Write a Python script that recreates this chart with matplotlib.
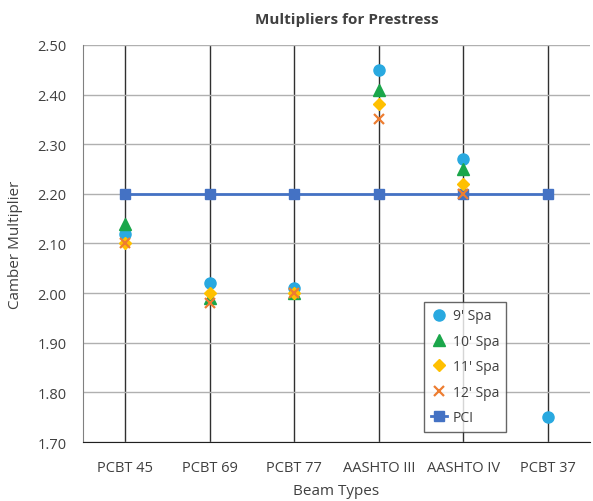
import numpy as np
import matplotlib.pyplot as plt

beams = ['PCBT 45', 'PCBT 69', 'PCBT 77', 'AASHTO III', 'AASHTO IV', 'PCBT 37']
spa9 = [2.12, 2.02, 2.01, 2.45, 2.27, 1.75]
spa10 = [2.14, 1.99, 2.00, 2.41, 2.25, np.nan]
spa11 = [2.10, 2.00, 2.00, 2.38, 2.22, np.nan]
spa12 = [2.10, 1.98, 2.00, 2.35, 2.20, np.nan]
pci = [2.20, 2.20, 2.20, 2.20, 2.20, 2.20]

plt.rcParams['font.family'] = ['Open Sans', 'DejaVu Sans']

fig = plt.figure(figsize=(5.93, 5.02), dpi=100)
ax = fig.add_axes([0.14, 0.1175, 0.855, 0.791])
x = np.arange(len(beams))

ax.plot(x, spa9, 'o', color='#29A9E0', ms=8, label="9' Spa", zorder=3)
ax.plot(x, spa10, '^', color='#1AA64A', ms=8, label="10' Spa", zorder=4)
ax.plot(x, spa11, 'D', color='#FFC000', ms=6, label="11' Spa", zorder=5)
ax.plot(x, spa12, 'x', color='#ED7D31', ms=7, mew=1.6, label="12' Spa", zorder=6)
ax.plot(x, pci, '-s', color='#4472C4', lw=2, ms=7, label='PCI', zorder=2)

ax.set_xlim(-0.5, 5.5)
ax.set_ylim(1.70, 2.50)
ax.set_yticks(np.arange(1.70, 2.501, 0.10))
ax.set_yticklabels(['%.2f' % v for v in np.arange(1.70, 2.501, 0.10)])
ax.set_xticks(x)
ax.set_xticklabels(beams)
ax.yaxis.grid(True, color='#b0b0b0', lw=1)
ax.xaxis.grid(True, color='#303030', lw=1)
ax.set_axisbelow(True)
ax.tick_params(length=0, labelsize=10.5, colors='#404040')
ax.tick_params(axis='x', pad=13)
ax.tick_params(axis='y', pad=12)
for s in ['top', 'right']:
    ax.spines[s].set_visible(False)
ax.spines['left'].set_color('#808080')
ax.spines['bottom'].set_color('#202020')

ax.set_title('Multipliers for Prestress', fontsize=11, fontweight='bold', color='#404040',
             pad=16, x=0.52)
ax.set_xlabel('Beam Types', fontsize=11, color='#404040', labelpad=6)
ax.set_ylabel('Camber Multiplier', fontsize=11, color='#404040', labelpad=10)

leg = ax.legend(loc='lower left', bbox_to_anchor=(0.672, 0.025), borderaxespad=0,
                fancybox=False, edgecolor='#404040', fontsize=10, handlelength=1.2,
                handletextpad=0.4, borderpad=0.5, labelspacing=0.75)
leg.get_frame().set_linewidth(1)
for t in leg.get_texts():
    t.set_color('#404040')

fig.savefig('out.png', dpi=100)
